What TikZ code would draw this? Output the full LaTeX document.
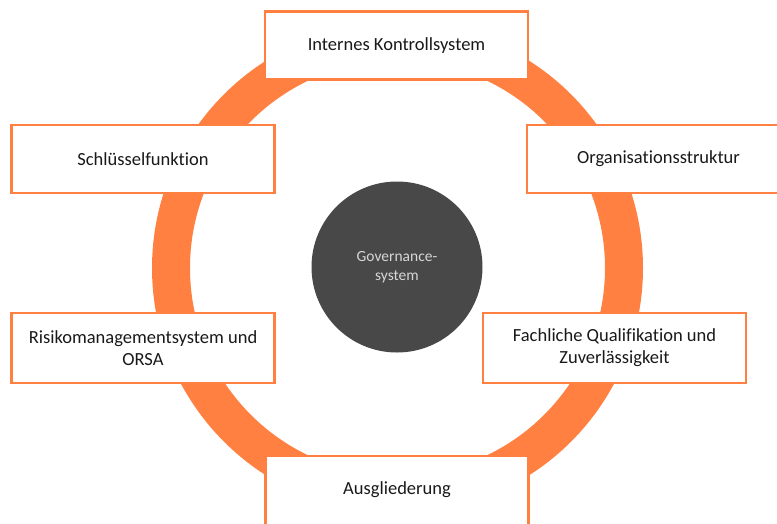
\documentclass[tikz,border=0pt]{standalone}
\usepackage{fontspec}
\setmainfont{Carlito}[Ligatures=NoCommon]
\usepackage{tikz}
\usetikzlibrary{positioning}
\definecolor{ringorange}{RGB}{255,128,64}
\definecolor{coredark}{RGB}{72,72,72}
\definecolor{coretext}{RGB}{215,215,215}
\tikzstyle{pillar}= [draw=ringorange,
line width=2.5pt,
fill=white,
rectangle,
minimum width=263pt,
minimum height=68pt,
align=center,
text=black!90,
font=\fontsize{18.5}{22}\selectfont,
]
\tikzstyle{core}=  [circle,
fill=coredark,
minimum size=171pt,
align=center,
text=coretext,
font=\fontsize{15.5}{19}\selectfont,
]
\tikzstyle{ring}=  [draw=ringorange,
line width=38pt,
]

\begin{document}
\begin{tikzpicture}[x=1pt, y=-1pt]
        \useasboundingbox (0,0) rectangle (777,523);
        \node[core] (governance) at (397,267) {Governance-\\system};
        \draw[ring] (397.5,268) circle (226.5pt);

        \node[pillar] (internal_control) at (396.5,45.5) {Internes Kontrollsystem};
        \node[pillar] (key_function) at (143,159) {Schlüsselfunktion};
        \node[pillar] (organisation) at (658.5,159) {Organisationsstruktur};
        \node[pillar, minimum height=70pt] (risk_mgmt) at (143,348) {Risikomanagementsystem und\\ORSA};
        \node[pillar, minimum height=70pt] (fit_proper) at (614.5,348) {Fachliche Qualifikation und\\Zuverlässigkeit};
        \node[pillar, minimum height=84pt, text depth=20pt] (outsourcing) at (397,498) {Ausgliederung};
    \end{tikzpicture}
\end{document}
